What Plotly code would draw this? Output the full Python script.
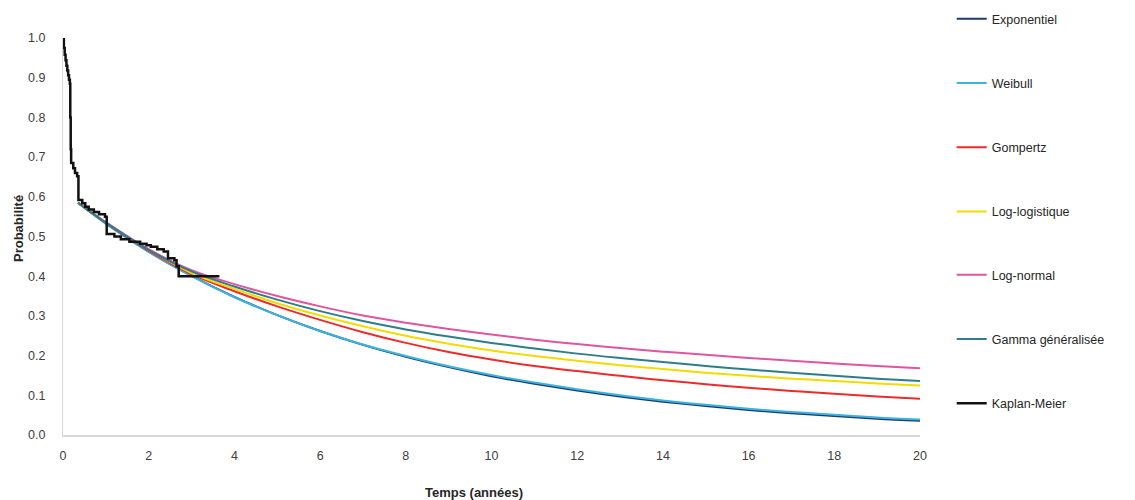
import plotly.graph_objects as go

# ---- data ----
t_fit = [0.35, 1, 2, 3, 4, 5, 6, 7, 8, 9, 10, 11, 12, 13, 14, 15, 16, 17, 18, 19, 20]
s_expo = [0.585, 0.533, 0.462, 0.401, 0.348, 0.302, 0.262, 0.227, 0.197, 0.171, 0.148,
          0.129, 0.112, 0.097, 0.084, 0.073, 0.063, 0.055, 0.048, 0.041, 0.036]
s_weibull = [0.585, 0.532, 0.461, 0.400, 0.347, 0.302, 0.262, 0.228, 0.199, 0.173, 0.151,
             0.132, 0.115, 0.100, 0.087, 0.076, 0.066, 0.058, 0.051, 0.044, 0.039]
s_gompertz = [0.585, 0.534, 0.464, 0.405, 0.362, 0.324, 0.290, 0.259, 0.232, 0.209, 0.190,
              0.174, 0.161, 0.149, 0.138, 0.128, 0.119, 0.111, 0.104, 0.097, 0.091]
s_loglogist = [0.585, 0.536, 0.467, 0.408, 0.368, 0.332, 0.301, 0.274, 0.250, 0.230, 0.213,
               0.199, 0.187, 0.176, 0.166, 0.157, 0.149, 0.142, 0.136, 0.130, 0.125]
s_lognormal = [0.585, 0.536, 0.468, 0.415, 0.380, 0.350, 0.324, 0.301, 0.283, 0.267, 0.253,
               0.240, 0.229, 0.219, 0.210, 0.202, 0.194, 0.187, 0.180, 0.174, 0.168]
s_gamma = [0.585, 0.535, 0.466, 0.412, 0.374, 0.341, 0.312, 0.287, 0.266, 0.248, 0.232,
           0.218, 0.205, 0.194, 0.184, 0.174, 0.165, 0.157, 0.149, 0.142, 0.136]

t_km = [0, 0.02, 0.04, 0.06, 0.08, 0.10, 0.12, 0.14, 0.16, 0.17, 0.18, 0.19, 0.24, 0.28,
        0.33, 0.36, 0.45, 0.52, 0.60, 0.72, 0.84, 0.98, 1.02, 1.20, 1.35, 1.55, 1.80, 1.95,
        2.05, 2.20, 2.35, 2.45, 2.60, 2.65, 2.70, 3.65]
s_km = [1.0, 0.975, 0.958, 0.944, 0.93, 0.918, 0.906, 0.895, 0.885, 0.80, 0.72, 0.685,
        0.672, 0.66, 0.652, 0.592, 0.584, 0.575, 0.568, 0.562, 0.556, 0.550, 0.506, 0.500,
        0.493, 0.487, 0.482, 0.478, 0.474, 0.468, 0.462, 0.445, 0.440, 0.425, 0.400, 0.400]

names = ["Exponentiel", "Weibull", "Gompertz", "Log-logistique", "Log-normal",
         "Gamma généralisée", "Kaplan-Meier"]
colors = ["#1f3a6b", "#3ab4e0", "#ec2b2b", "#f2dc00", "#e0559f", "#2d7d8a", "#111111"]

x_ticks = [0, 2, 4, 6, 8, 10, 12, 14, 16, 18, 20]
y_ticks = [0.0, 0.1, 0.2, 0.3, 0.4, 0.5, 0.6, 0.7, 0.8, 0.9, 1.0]

fig = go.Figure()
fit_series = [s_expo, s_weibull, s_gompertz, s_loglogist, s_lognormal, s_gamma]
for i, s in enumerate(fit_series):
    fig.add_trace(go.Scatter(x=t_fit, y=s, mode="lines", name=names[i],
                             legendgroup=names[i],
                             legend="legend" if i < 4 else "legend2",
                             line=dict(color=colors[i], width=2, shape="spline")))
fig.add_trace(go.Scatter(x=t_km, y=s_km, mode="lines", name=names[6], legendgroup=names[6],
                         legend="legend2",
                         line=dict(color=colors[6], width=2.5, shape="hv")))

font = "Liberation Sans, Arial, sans-serif"
leg_common = dict(x=1.037, xanchor="left", yanchor="top", tracegroupgap=45,
                  font=dict(size=12.5, color="#262626"),
                  bgcolor="rgba(0,0,0,0)", itemwidth=30)
fig.update_layout(
    width=1135, height=500,
    margin=dict(l=63, r=215, t=38, b=65, autoexpand=False),
    paper_bgcolor="white", plot_bgcolor="white",
    font=dict(family=font, size=12, color="#404040"),
    showlegend=True,
    legend=dict(y=1.0856, **leg_common),
    legend2=dict(y=0.4408, **leg_common),
    xaxis=dict(range=[0, 20], tickvals=x_ticks, showgrid=False, zeroline=False,
               showline=True, linecolor="#d9d9d9", linewidth=2, ticks="",
               ticklabelstandoff=8, tickfont=dict(size=12.5, color="#404040")),
    yaxis=dict(range=[0, 1.0], tickvals=y_ticks, tickformat=".1f", showgrid=False,
               zeroline=False, showline=True, linecolor="#d9d9d9", linewidth=1, ticks="",
               ticklabelstandoff=14, tickfont=dict(size=12.5, color="#404040")),
    annotations=[
        dict(text="<b>Probabilité</b>", xref="paper", yref="paper", x=-0.052, y=0.52,
             xanchor="center", yanchor="middle",
             textangle=-90, showarrow=False, font=dict(size=13, color="#262626")),
        dict(text="<b>Temps (années)</b>", xref="paper", yref="paper", x=0.479, y=-0.144,
             xanchor="center", yanchor="middle", showarrow=False,
             font=dict(size=13, color="#262626")),
    ],
)

fig.write_html("out.html", config={"displayModeBar": False},
               post_script="document.body.style.margin='0';document.body.style.overflow='hidden';")
